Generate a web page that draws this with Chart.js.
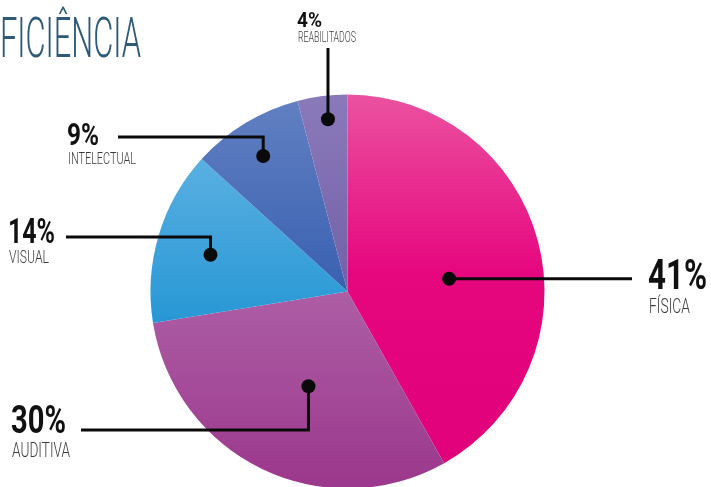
<!DOCTYPE html>
<html>
<head>
<meta charset="utf-8">
<script src="https://cdn.jsdelivr.net/npm/chart.js@4"></script>
<style>
  html, body { margin: 0; padding: 0; background: #fff; }
  #wrap { width: 711px; height: 487px; }
</style>
</head>
<body>
<div id="wrap"><canvas id="mainChart"></canvas></div>
<script>
const categories = ["FÍSICA", "AUDITIVA", "VISUAL", "INTELECTUAL", "REABILITADOS"];
const values = [41, 30, 14, 9, 4];
const titleText = "DEFICIÊNCIA";

// gradient stops per slice (top of pie -> bottom of pie)
const sliceStops = [
    [[0, "#eb52a0"], [0.45, "#e6077f"], [1, "#e0007a"]],
    [[0.5, "#ad5ea5"], [1, "#9b378c"]],
    [[0.1, "#62b3e3"], [0.6, "#2496d4"]],
    [[0, "#6381c3"], [0.5, "#3960b0"]],
    [[0, "#8a7aba"], [0.5, "#7360a7"]]
];

// where the dot sits in each slice (fraction of arc, fraction of radius) and label layout
const labelLayout = [
    { t: 0.55, r: 0.52, path: "h", endX: 632, px: 648, pBase: 289, pSize: 42, pW: 59, lBase: 313, lSize: 20, lW: 41 },
    { t: 0.47, r: 0.52, path: "v", elbowY: 430, endX: 81, px: 11, pBase: 433, pSize: 39, pW: 55, lBase: 457, lSize: 20, lW: 58 },
    { t: 0.47, r: 0.72, path: "v", elbowY: 237, endX: 66, px: 8, pBase: 243, pSize: 35, pW: 47, lBase: 263, lSize: 19, lW: 40 },
    { t: 0.48, r: 0.81, path: "v", elbowY: 137, endX: 118, px: 67, pBase: 145, pSize: 31, pW: 32, lBase: 164, lSize: 17, lW: 68 },
    { t: 0.56, r: 0.88, path: "v", elbowY: 48, endX: null, px: 297, pBase: 27, pSize: 21, pW: 25, lBase: 42, lSize: 14, lW: 58 }
];

function fitText(ctx, text, x, base, font, color, width) {
    ctx.save();
    ctx.font = font;
    ctx.fillStyle = color;
    ctx.textBaseline = "alphabetic";
    ctx.textAlign = "left";
    const w = ctx.measureText(text).width;
    ctx.translate(x, base);
    ctx.scale(width / w, 1);
    ctx.fillText(text, 0, 0);
    ctx.restore();
}

const labelsPlugin = {
    id: "leaderLabels",
    afterDatasetsDraw(chart) {
        const ctx = chart.ctx;
        const arcs = chart.getDatasetMeta(0).data;

        // title, cropped on the left like the source
        ctx.save();
        ctx.font = "300 56px Roboto";
        const full = ctx.measureText(titleText).width;
        const head = ctx.measureText("DE").width;
        const sx = 141 / (full - head);
        ctx.translate(-head * sx, 57);
        ctx.scale(sx, 1);
        ctx.fillStyle = "#2e5a79";
        ctx.fillText(titleText, 0, 0);
        ctx.restore();

        arcs.forEach((arc, i) => {
            const L = labelLayout[i];
            const p = arc.getProps(["x", "y", "startAngle", "endAngle", "outerRadius"], true);
            const a = p.startAngle + L.t * (p.endAngle - p.startAngle);
            const dx = p.x + Math.cos(a) * p.outerRadius * L.r;
            const dy = p.y + Math.sin(a) * p.outerRadius * L.r;

            ctx.save();
            ctx.strokeStyle = "#0a0a0a";
            ctx.lineWidth = 3;
            ctx.beginPath();
            ctx.moveTo(dx, dy);
            if (L.path === "h") {
                ctx.lineTo(L.endX, dy);
            } else {
                ctx.lineTo(dx, L.elbowY);
                if (L.endX !== null) ctx.lineTo(L.endX, L.elbowY);
            }
            ctx.stroke();
            ctx.fillStyle = "#0a0a0a";
            ctx.beginPath();
            ctx.arc(dx, dy, 7, 0, Math.PI * 2);
            ctx.fill();
            ctx.restore();

            fitText(ctx, values[i] + "%", L.px, L.pBase, "bold " + L.pSize + "px Roboto", "#111111", L.pW);
            fitText(ctx, categories[i], L.px + 1, L.lBase, "300 " + L.lSize + "px Roboto", "#3a3a3a", L.lW);
        });
    }
};

function sliceColor(c) {
    const area = c.chart.chartArea;
    const stops = sliceStops[c.dataIndex];
    if (!area) return stops[stops.length - 1][1];
    const meta = c.chart.getDatasetMeta(0).data[c.dataIndex];
    const cy = (area.top + area.bottom) / 2;
    const r = meta && meta.outerRadius ? meta.outerRadius : 197;
    const g = c.chart.ctx.createLinearGradient(0, cy - r, 0, cy + r);
    stops.forEach(s => g.addColorStop(s[0], s[1]));
    return g;
}

new Chart(document.getElementById("mainChart"), {
    type: "pie",
    data: {
        labels: categories,
        datasets: [{
            data: values,
            backgroundColor: sliceColor,
            borderWidth: 0,
            radius: 197
        }]
    },
    options: {
        responsive: true,
        maintainAspectRatio: false,
        animation: false,
        layout: { padding: { left: 150, right: 166, top: 96, bottom: 0 } },
        plugins: {
            legend: { display: false },
            tooltip: { enabled: false },
            title: { display: false }
        }
    },
    plugins: [labelsPlugin]
});
</script>
</body>
</html>
